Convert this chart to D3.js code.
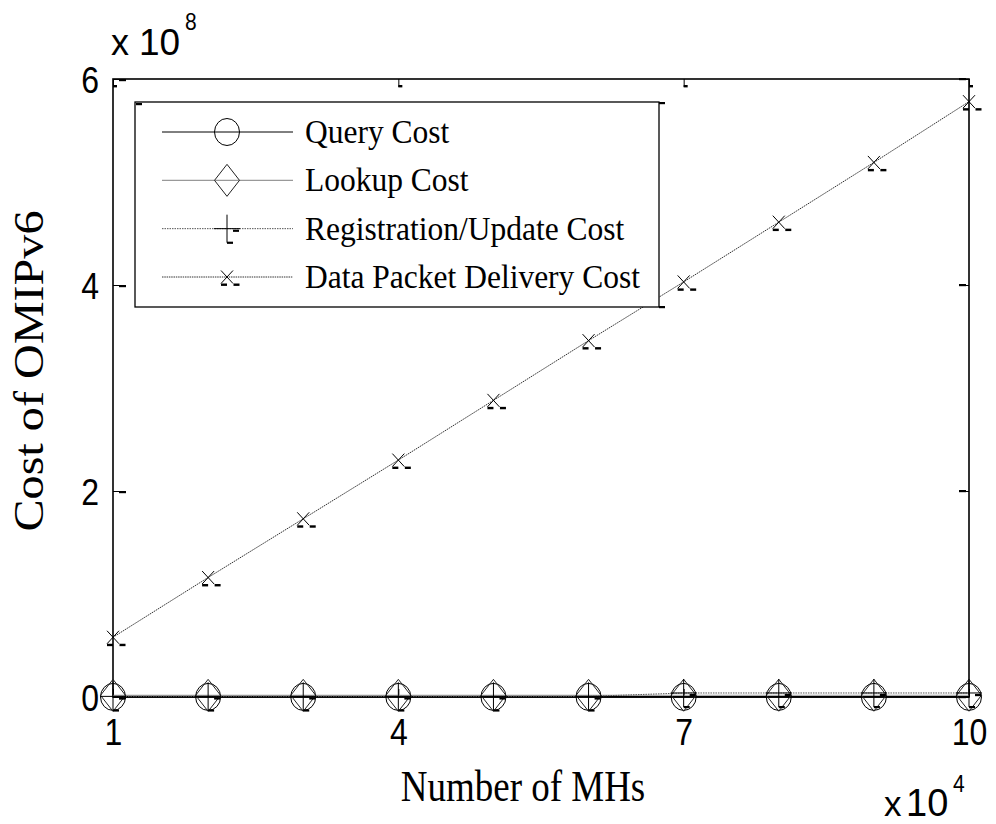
<!DOCTYPE html>
<html>
<head>
<meta charset="utf-8">
<script src="https://cdn.jsdelivr.net/npm/d3@7/dist/d3.min.js"></script>
<style>
  html, body { margin: 0; padding: 0; background: #fff; }
  svg { display: block; }
</style>
</head>
<body>
<svg id="chart" width="996" height="824"></svg>
<script>
// ---- data ----
const mhs = [1, 2, 3, 4, 5, 6, 7, 8, 9, 10];               // x 10^4
const queryCost = [0.1e6, 0.1e6, 0.1e6, 0.1e6, 0.1e6, 0.1e6, 0.1e6, 0.1e6, 0.1e6, 0.1e6];
const lookupCost = [1.6e6, 1.6e6, 1.6e6, 1.6e6, 1.6e6, 1.6e6, 1.7e6, 1.7e6, 1.7e6, 1.7e6];
const registrationCost = [0.6e6, 0.6e6, 0.6e6, 0.6e6, 0.6e6, 0.6e6, 3.9e6, 3.9e6, 3.9e6, 3.9e6];
const dataDeliveryCost = [0.58e8, 1.16e8, 1.73e8, 2.30e8, 2.88e8, 3.46e8, 4.03e8, 4.61e8, 5.19e8, 5.78e8];
const xTicks = [1, 4, 7, 10];
const yTicks = [0, 2e8, 4e8, 6e8];
const seriesNames = ["Query Cost", "Lookup Cost", "Registration/Update Cost", "Data Packet Delivery Cost"];

// ---- layout ----
const svg = d3.select("#chart");
const L = 113, R = 969, T = 79, B = 697;
const x = d3.scaleLinear().domain([1, 10]).range([L, R]);
const y = d3.scaleLinear().domain([0, 6e8]).range([B, T]);

const sans = "'Liberation Sans', Arial, sans-serif";
const serif = "'Liberation Serif', 'Times New Roman', serif";
const SY = 1.17;   // vertical stretch of the reference's lettering

// axes box
svg.append("rect").attr("x", L).attr("y", T).attr("width", R - L).attr("height", B - T)
  .attr("fill", "none").attr("stroke", "#000").attr("stroke-width", 1.6);

function styleAxis(g, showLabels) {
  g.select(".domain").remove();
  g.selectAll(".tick line").attr("stroke", "#000").attr("stroke-width", 1);
  g.selectAll(".tick text").attr("font-family", sans).attr("font-size", 32).attr("fill", "#000");
  if (!showLabels) g.selectAll(".tick text").remove();
}
const fmtY = d => d3.format("d")(d / 1e8);
svg.append("g").attr("transform", `translate(${L},0)`)
  .call(d3.axisLeft(y).tickValues(yTicks).tickSizeInner(-8).tickSizeOuter(0).tickPadding(14).tickFormat(fmtY))
  .call(g => styleAxis(g, true))
  .call(g => g.selectAll(".tick text").attr("dy", "0.36em").attr("transform", `scale(1,${SY})`));
svg.append("g").attr("transform", `translate(${R},0)`)
  .call(d3.axisRight(y).tickValues(yTicks).tickSizeInner(-8).tickSizeOuter(0).tickFormat(fmtY))
  .call(g => styleAxis(g, false));
svg.append("g").attr("transform", `translate(0,${B})`)
  .call(d3.axisBottom(x).tickValues(xTicks).tickSizeInner(-8).tickSizeOuter(0).tickPadding(26).tickFormat(d3.format("d")))
  .call(g => styleAxis(g, true))
  .call(g => g.selectAll(".tick text").attr("dy", 0).attr("y", 48 / SY).attr("transform", `scale(1,${SY})`));
svg.append("g").attr("transform", `translate(0,${T})`)
  .call(d3.axisTop(x).tickValues(xTicks).tickSizeInner(-8).tickSizeOuter(0).tickFormat(d3.format("d")))
  .call(g => styleAxis(g, false));

// tick artifacts (small heavy dashes)
const dash = (px, py, w, h) => svg.append("rect").attr("x", px).attr("y", py).attr("width", w).attr("height", h).attr("fill", "#000");
yTicks.forEach(v => { dash(L + 6, y(v), 7, 2.2); dash(R - 10, y(v) - 1, 7, 2.2); });
xTicks.forEach(v => { dash(x(v), T + 6, 4, 2.4); });

// exponent labels
function stretched(px, py, size, family, str, anchor, sy) {
  return svg.append("text").attr("transform", `translate(${px},${py}) scale(1,${sy || SY})`)
    .attr("font-family", family).attr("font-size", size).attr("text-anchor", anchor || "start").text(str);
}
stretched(111, 55, 36, sans, "x", null, 1);
stretched(139, 55, 37, sans, "10", null, 1);
stretched(185, 30, 21, sans, "8");
stretched(884, 816, 35, sans, "x", null, 1);
stretched(906, 816, 38, sans, "10", null, 1);
stretched(953, 792, 21, sans, "4");

// axis titles
stretched(523, 801, 37, serif, "Number of MHs", "middle");
svg.append("text").attr("transform", `translate(43,371) scale(1,${SY * 0.98}) rotate(-90)`).attr("text-anchor", "middle")
  .attr("font-family", serif).attr("font-size", 42).text("Cost of OMIPv6");

// ---- series ----
const series = [
  { name: seriesNames[0], vals: queryCost, stroke: "#000", width: 1.6, dasharray: null, marker: "circle" },
  { name: seriesNames[1], vals: lookupCost, stroke: "#999", width: 1.2, dasharray: null, marker: "diamond" },
  { name: seriesNames[2], vals: registrationCost, stroke: "#555", width: 1, dasharray: "1.5,1", marker: "plus" },
  { name: seriesNames[3], vals: dataDeliveryCost, stroke: "#333", width: 1, dasharray: "1.5,0.8", marker: "cross" }
];

const line = d3.line().x((d, i) => x(mhs[i])).y(d => y(d));

function drawMarker(g, type, cx, cy) {
  if (type === "circle") {
    g.append("ellipse").attr("cx", cx).attr("cy", cy).attr("rx", 12.5).attr("ry", 13.5)
      .attr("fill", "none").attr("stroke", "#000").attr("stroke-width", 1);
  } else if (type === "diamond") {
    g.append("path").attr("d", `M${cx},${cy - 16}L${cx + 12.5},${cy}L${cx},${cy + 16}L${cx - 12.5},${cy}Z`)
      .attr("fill", "none").attr("stroke", "#222").attr("stroke-width", 1);
  } else if (type === "plus") {
    g.append("path").attr("d", `M${cx - 13},${cy}H${cx + 13}M${cx},${cy - 14}V${cy + 14}`)
      .attr("fill", "none").attr("stroke", "#000").attr("stroke-width", 1);
    g.append("rect").attr("x", cx + 6).attr("y", cy + 1).attr("width", 6).attr("height", 2.2).attr("fill", "#000");
    g.append("rect").attr("x", cx).attr("y", cy + 13).attr("width", 6).attr("height", 2.2).attr("fill", "#000");
  } else if (type === "cross") {
    g.append("path").attr("d", `M${cx - 6},${cy - 6.5}L${cx + 6},${cy + 6.5}M${cx + 6},${cy - 6.5}L${cx - 6},${cy + 6.5}`)
      .attr("fill", "none").attr("stroke", "#000").attr("stroke-width", 1);
    g.append("rect").attr("x", cx - 6).attr("y", cy + 6.5).attr("width", 6).attr("height", 2.4).attr("fill", "#000");
    g.append("rect").attr("x", cx + 6.5).attr("y", cy + 6.5).attr("width", 6).attr("height", 2.4).attr("fill", "#000");
  }
}

const plotG = svg.append("g");
series.forEach(s => {
  plotG.append("path").datum(s.vals).attr("d", line)
    .attr("fill", "none").attr("stroke", s.stroke).attr("stroke-width", s.width)
    .attr("stroke-dasharray", s.dasharray);
});
series.forEach(s => {
  const mg = plotG.append("g");
  s.vals.forEach((v, i) => drawMarker(mg, s.marker, x(mhs[i]), y(v)));
});

// ---- legend ----
const lg = svg.append("g");
lg.append("rect").attr("x", 135).attr("y", 102).attr("width", 524).attr("height", 205)
  .attr("fill", "#fff").attr("stroke", "#000").attr("stroke-width", 1.3);
dash(136, 103, 6, 2.2); dash(659, 102, 6, 2.2); dash(659, 306, 6, 2.2);
const rowY = d3.scalePoint().domain(seriesNames).range([132, 277]);
series.forEach(s => {
  const ry = rowY(s.name);
  lg.append("line").attr("x1", 162).attr("x2", 293).attr("y1", ry).attr("y2", ry)
    .attr("stroke", s.stroke).attr("stroke-width", s.marker === "circle" ? 1 : s.width)
    .attr("stroke-dasharray", s.dasharray);
  drawMarker(lg, s.marker, 227, ry);
  lg.append("text").attr("transform", `translate(305,${ry + 11}) scale(1,1.1)`)
    .attr("font-family", serif).attr("font-size", 31.5).text(s.name);
});
</script>
</body>
</html>
